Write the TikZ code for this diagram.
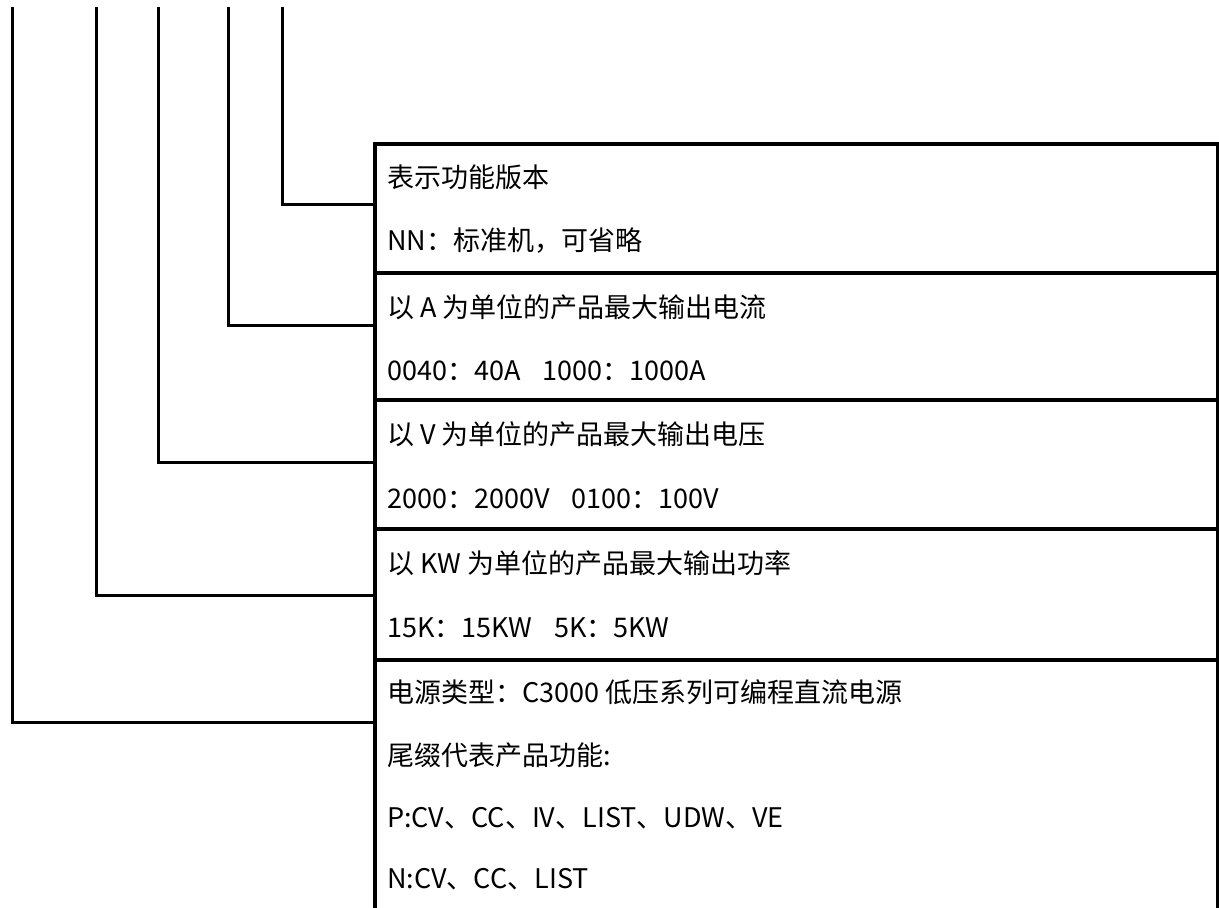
\documentclass[tikz,border=0pt]{standalone}
\usepackage{fontspec}
\setmainfont{Noto Sans CJK SC}
\begin{document}
\begin{tikzpicture}[x=1pt,y=-1pt]
\useasboundingbox (0,0) rectangle (1219,908);
\fill[white] (0,0) rectangle (1219,908);
\tikzset{
  sec/.style={draw,line width=3.5pt,minimum width=843pt,inner sep=0pt,anchor=north west},
  conn/.style={line width=3pt},
  lbl/.style={anchor=base west,inner sep=0pt,font=\fontsize{27}{30}\selectfont}
}
\begin{scope}
\clip (0,0) rectangle (1219,908);
\node[sec,minimum height=129pt] (s1) at (373,142) {};
\node[sec,minimum height=127pt] (s2) at (373,271) {};
\node[sec,minimum height=129pt] (s3) at (373,398) {};
\node[sec,minimum height=131pt] (s4) at (373,527) {};
\node[sec,minimum height=275pt] (s5) at (373,658) {};
\end{scope}
% top ends of the leader lines
\coordinate (t1) at (12,7);
\coordinate (t2) at (96,7);
\coordinate (t3) at (158,7);
\coordinate (t4) at (228,7);
\coordinate (t5) at (282,7);
\draw[conn] (t1) |- ([yshift=-64pt]s5.north west);
\draw[conn] (t2) |- ([yshift=-68pt]s4.north west);
\draw[conn] (t3) |- ([yshift=-64pt]s3.north west);
\draw[conn] (t4) |- ([yshift=-54pt]s2.north west);
\draw[conn] (t5) |- ([yshift=-62pt]s1.north west);
% texts
\node[lbl] (a1) at (387,187) {表示功能版本};
\node[lbl] (a2) at (387,250) {NN：标准机，可省略};
\node[lbl] (b1) at (387,317) {以 A 为单位的产品最大输出电流};
\node[lbl] (b2) at (387,380) {0040：40A\hspace{22pt}1000：1000A};
\node[lbl] (c1) at (387,444) {以 V 为单位的产品最大输出电压};
\node[lbl] (c2) at (387,508) {2000：2000V\hspace{22pt}0100：100V};
\node[lbl] (d1) at (387,573) {以 KW 为单位的产品最大输出功率};
\node[lbl] (d2) at (387,637) {15K：15KW\hspace{22pt}5K：5KW};
\node[lbl] (e1) at (387,702) {电源类型：C3000 低压系列可编程直流电源};
\node[lbl] (e2) at (387,765) {尾缀代表产品功能:};
\node[lbl] (e3) at (387,827) {P:CV、CC、IV、LIST、UDW、VE};
\node[lbl] (e4) at (387,888) {N:CV、CC、LIST};
\end{tikzpicture}
\end{document}
